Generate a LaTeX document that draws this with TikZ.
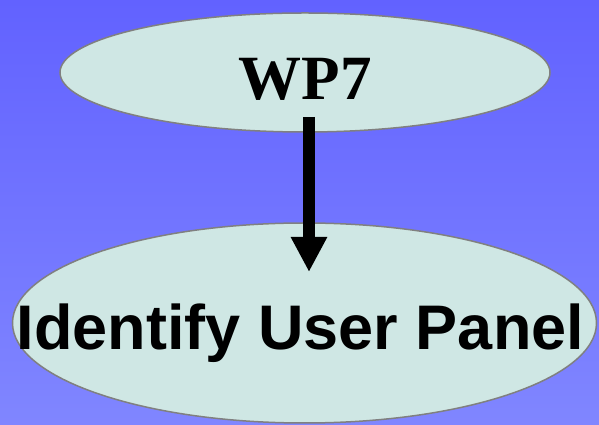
\documentclass[tikz,border=0pt]{standalone}
\usepackage{fontspec}
\setmainfont{Liberation Serif}
\setsansfont{Liberation Sans}
\usetikzlibrary{shapes.geometric,arrows.meta}
\definecolor{bgtop}{RGB}{98,98,255}
\definecolor{bgbot}{RGB}{128,134,255}
\definecolor{ellfill}{RGB}{207,231,228}
\definecolor{ellline}{RGB}{128,128,128}
\begin{document}
\begin{tikzpicture}[x=1pt,y=1pt,
  bubble/.style={ellipse,draw=ellline,fill=ellfill,line width=1.5pt,inner sep=0pt},
  bigtext/.style={anchor=base,inner sep=0pt,font=\fontsize{63}{63}\selectfont\bfseries},
  flow/.style={line width=12pt,-{Triangle[width=34pt,length=35pt]}}]
\useasboundingbox (0,0) rectangle (599,425);
\shade[top color=bgtop,bottom color=bgbot] (0,0) rectangle (599,425);
\node[bubble,minimum width=490pt,minimum height=119pt] (wp) at (305,352.5) {};
\node[bubble,minimum width=584pt,minimum height=200pt] (panel) at (304.5,102) {};
\node[bigtext,font=\fontsize{63}{63}\selectfont\rmfamily\bfseries] (wptext) at (305,325) {WP7};
\node[bigtext,font=\fontsize{63}{63}\selectfont\sffamily\bfseries] (paneltext) at (300.5,75) {Identify User Panel};
\coordinate (astart) at (309,308);
\coordinate (aend) at (309,153);
\draw[flow] (astart) -- (aend);
\end{tikzpicture}
\end{document}
